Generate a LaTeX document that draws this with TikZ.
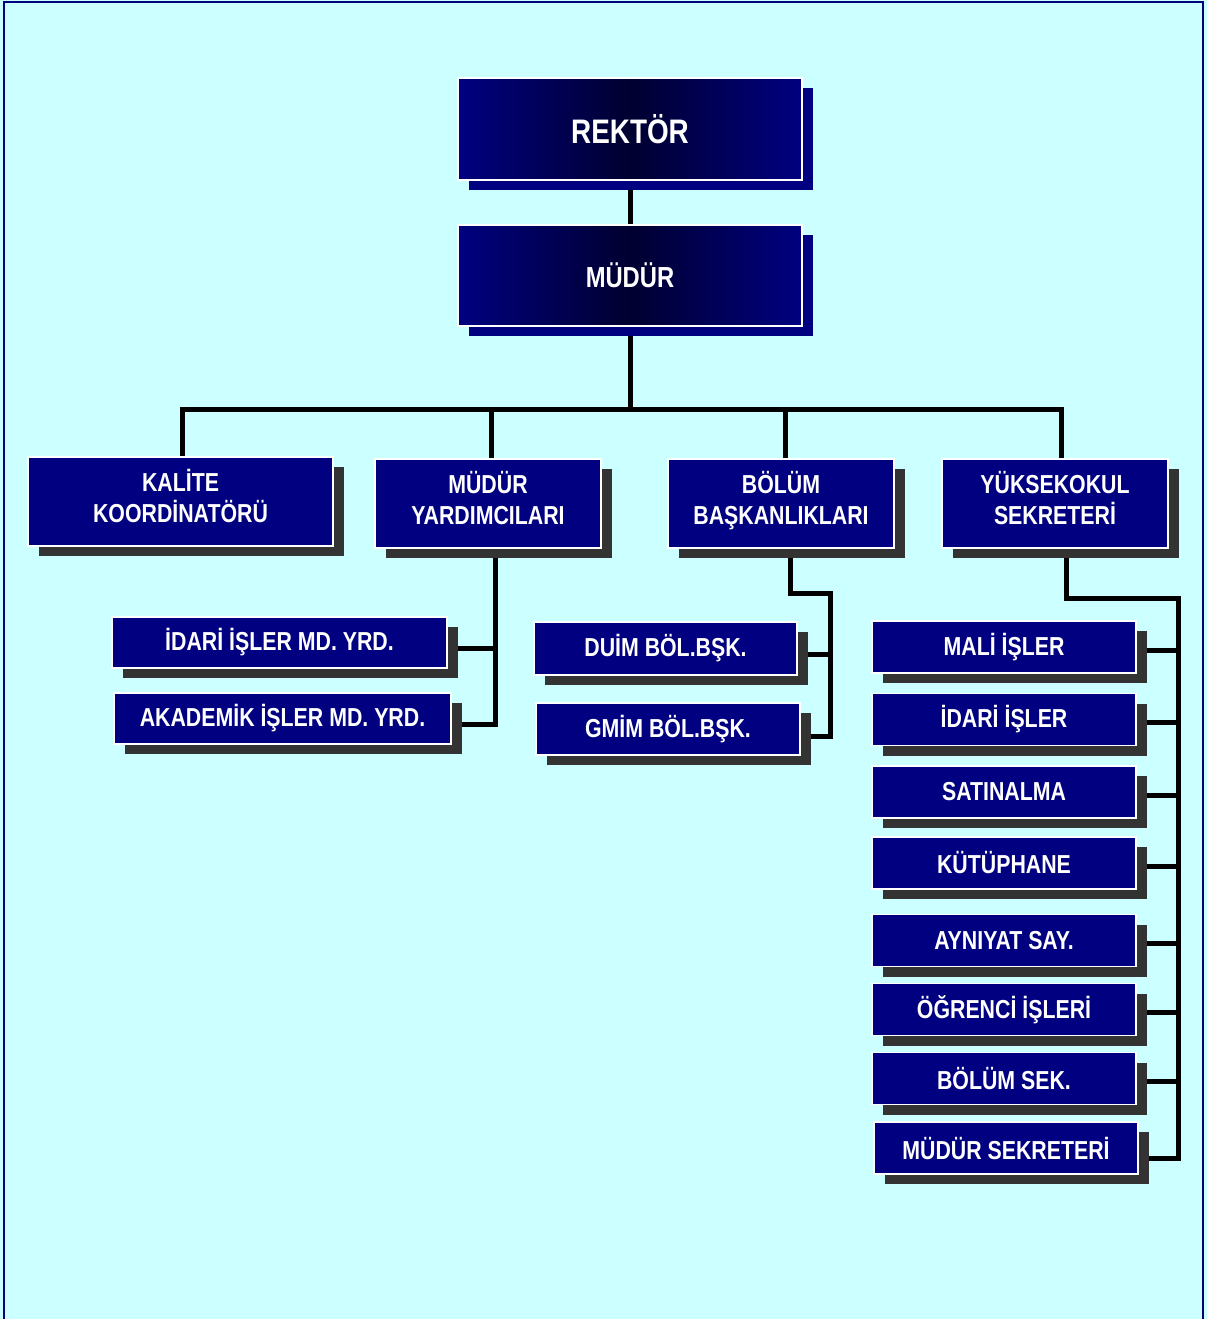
\documentclass[tikz,border=0pt]{standalone}
\usepackage{fontspec}
\newfontfamily\orgfont[FakeStretch=0.82]{Liberation Sans}
\usetikzlibrary{shadows,backgrounds}

\definecolor{chartbg}{HTML}{CCFFFF}
\definecolor{boxblue}{HTML}{000080}
\definecolor{boxdark}{HTML}{000030}
\definecolor{shadowgray}{HTML}{333333}

\tikzset{
  box/.style={rectangle, draw=white, line width=1.2pt, fill=boxblue,
    text=white, align=center, inner sep=0pt,
    font=\orgfont\bfseries\fontsize{26}{31}\selectfont},
  unit/.style={box, drop shadow={shadow xshift=11pt, shadow yshift=-10pt,
    fill=shadowgray, opacity=1}},
  head/.style={box, left color=boxblue, right color=boxblue, middle color=boxdark,
    drop shadow={shadow xshift=11pt, shadow yshift=-10pt, fill=boxblue, opacity=1}},
  branch/.style={unit, minimum height=89pt, text depth=12pt},
  staff/.style={unit, minimum width=264pt, minimum height=52pt},
  link/.style={line width=5pt},
}

\begin{document}
\begin{tikzpicture}[x=1pt, y=-1pt]
\useasboundingbox (0,0) rectangle (1207,1319);

% top of the chart
\node[head, minimum width=344pt, minimum height=102pt,
  font=\orgfont\bfseries\fontsize{34}{40}\selectfont] (rektor) at (630,129) {REKTÖR};
\node[head, minimum width=344pt, minimum height=101pt,
  font=\orgfont\bfseries\fontsize{29}{34}\selectfont] (mudur) at (630,275.5) {MÜDÜR};

% second row
\node[branch, minimum width=305pt] (kalite) at (180.5,501.5) {KALİTE\\KOORDİNATÖRÜ};
\node[branch, minimum width=226pt] (yard) at (488,503.5) {MÜDÜR\\YARDIMCILARI};
\node[branch, minimum width=226pt] (bolum) at (781,503.5) {BÖLÜM\\BAŞKANLIKLARI};
\node[branch, minimum width=226pt] (yuksek) at (1055,503.5) {YÜKSEKOKUL\\SEKRETERİ};

% under the deputies
\node[unit, minimum width=335pt, minimum height=51pt] (idari) at (279.5,642.5) {İDARİ İŞLER MD. YRD.};
\node[unit, minimum width=337pt, minimum height=51pt] (akad) at (282.5,718.5) {AKADEMİK İŞLER MD. YRD.};

% under the departments
\node[unit, minimum width=263pt, minimum height=53pt] (duim) at (665.5,648.5) {DUİM BÖL.BŞK.};
\node[unit, minimum width=264pt, minimum height=52pt] (gmim) at (668,729) {GMİM BÖL.BŞK.};

% under the secretary
\foreach \n/\y/\t in {mali/647/MALİ İŞLER, idari2/719.5/İDARİ İŞLER,
    satin/792/SATINALMA, kutup/863/KÜTÜPHANE, ayni/940.5/AYNIYAT SAY.,
    ogr/1009.5/ÖĞRENCİ İŞLERİ, bolsek/1078.5/BÖLÜM SEK.}
  \node[staff] (\n) at (1004,\y) {\t};
\node[staff] (mudsek) at (1006,1148) {MÜDÜR SEKRETERİ};

\coordinate (bar) at (630,409);
\coordinate (lbus) at (495,649);
\coordinate (mbus) at (830,593);
\coordinate (rbus) at (1178,598);

\begin{scope}[on background layer]
  \fill[chartbg] (0,0) rectangle (1207,1319);
  \draw[link] (rektor.south) -- (mudur.north);
  \draw[link] (mudur.south) -- (bar);
  \draw[link] ([xshift=2pt]kalite.north) |- (bar) -| ([xshift=6pt]yuksek.north);
  \draw[link] ([xshift=3pt]yard.north) -- ([xshift=3pt]yard.north |- bar);
  \draw[link] ([xshift=4pt]bolum.south) -- ([xshift=4pt]bolum.north |- bar);
  % deputies
  \draw[link] ([xshift=7pt]yard.south) |- ([yshift=-6pt]akad.east);
  \draw[link] ([yshift=-6pt]idari.east) -- ([yshift=-6pt]idari.east -| lbus);
  % departments
  \draw[link] ([xshift=9pt]bolum.south) |- (mbus) |- ([yshift=-7pt]gmim.east);
  \draw[link] ([yshift=-6pt]duim.east) -- ([yshift=-6pt]duim.east -| mbus);
  % secretary
  \draw[link] ([xshift=11pt]yuksek.south) |- (rbus) |- ([yshift=-10pt]mudsek.east);
  \foreach \n in {mali, idari2, satin, kutup, ayni, ogr, bolsek}
    \draw[link] ([yshift=-3pt]\n.east) -- ([yshift=-3pt]\n.east -| rbus);
\end{scope}

% frame
\draw[boxblue, line width=2.5pt] (4,1319) -- (4,2) -- (1203,2) -- (1203,1319);
\end{tikzpicture}
\end{document}
